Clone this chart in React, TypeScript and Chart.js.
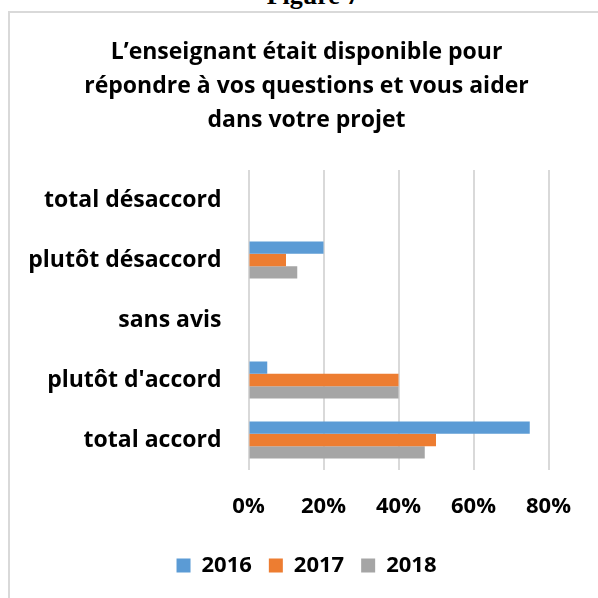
import React, { useEffect, useRef } from "react";
import { Chart, registerables } from "chart.js";

Chart.register(...registerables);

const TITLE_LINES = [
  "L\u2019enseignant était disponible pour",
  "répondre à vos questions et vous aider",
  "dans votre projet",
];
const CATEGORIES = [
  "total désaccord",
  "plutôt désaccord",
  "sans avis",
  "plutôt d'accord",
  "total accord",
];
const SERIES_NAMES = ["2016", "2017", "2018"];
const VALUES_2016 = [0, 20, 0, 5, 75];
const VALUES_2017 = [0, 10, 0, 40, 50];
const VALUES_2018 = [0, 13, 0, 40, 47];
const X_TICKS = [0, 20, 40, 60, 80];
const COLORS = ["#5B9BD5", "#ED7D31", "#A5A5A5"];

const FONT_FAMILY = "'Open Sans', 'DejaVu Sans', sans-serif";

export default function App() {
  const canvasRef = useRef<HTMLCanvasElement | null>(null);

  useEffect(() => {
    const canvas = canvasRef.current;
    if (!canvas) return;
    const series = [VALUES_2016, VALUES_2017, VALUES_2018];
    const chart = new Chart(canvas, {
      type: "bar",
      data: {
        labels: CATEGORIES,
        datasets: SERIES_NAMES.map((name, i) => ({
          label: name,
          data: series[i],
          backgroundColor: COLORS[i],
          borderWidth: 0,
          categoryPercentage: 0.617,
          barPercentage: 1,
        })),
      },
      options: {
        indexAxis: "y",
        responsive: false,
        animation: false,
        layout: { padding: { left: 0, right: 0, top: 0, bottom: 11.5 } },
        scales: {
          x: {
            min: X_TICKS[0],
            max: X_TICKS[X_TICKS.length - 1],
            afterBuildTicks: (scale: any) => {
              scale.ticks = X_TICKS.map((v) => ({ value: v }));
            },
            afterFit: (scale: any) => {
              scale.height = 67.5;
              scale.paddingRight = 54.5;
            },
            grid: {
              color: "#d9d9d9",
              lineWidth: 2,
              drawTicks: false,
            },
            border: { display: false },
            ticks: {
              padding: 24,
              color: "#000",
              font: { family: FONT_FAMILY, size: 22, weight: "bold" },
              callback: (v: any) => v + "%",
            },
          },
          y: {
            afterFit: (scale: any) => {
              scale.width = 238.5;
            },
            grid: { display: false, drawTicks: false },
            border: { display: false },
            ticks: {
              padding: 27,
              color: "#000",
              font: { family: FONT_FAMILY, size: 23, weight: "bold" },
            },
          },
        },
        plugins: {
          title: {
            display: true,
            text: TITLE_LINES,
            color: "#000",
            font: { family: FONT_FAMILY, size: 23, weight: "bold", lineHeight: "34px" },
            padding: { top: 22, bottom: 33 },
          },
          legend: {
            position: "bottom",
            labels: {
              boxWidth: 14,
              boxHeight: 14,
              padding: 17,
              color: "#000",
              font: { family: FONT_FAMILY, size: 22, weight: "bold" },
            },
          },
          tooltip: { enabled: false },
        },
      },
    });
    return () => chart.destroy();
  }, []);

  return (
    <div
      style={{
        position: "fixed",
        left: 0,
        top: 0,
        width: 598,
        height: 598,
        overflow: "hidden",
        background: "#fff",
      }}
    >
      <div
        style={{
          position: "absolute",
          left: 0,
          width: 626,
          top: -17,
          textAlign: "center",
          fontFamily: "'Liberation Serif', 'Times New Roman', serif",
          fontWeight: "bold",
          fontSize: 26,
          lineHeight: "26px",
          color: "#000",
        }}
      >
        Figure 7
      </div>
      <div
        style={{
          position: "absolute",
          left: 8,
          top: 11,
          width: 593,
          height: 600,
          border: "2px solid #d9d9d9",
        }}
      >
        <canvas ref={canvasRef} width={593} height={585} style={{ display: "block" }} />
      </div>
    </div>
  );
}
